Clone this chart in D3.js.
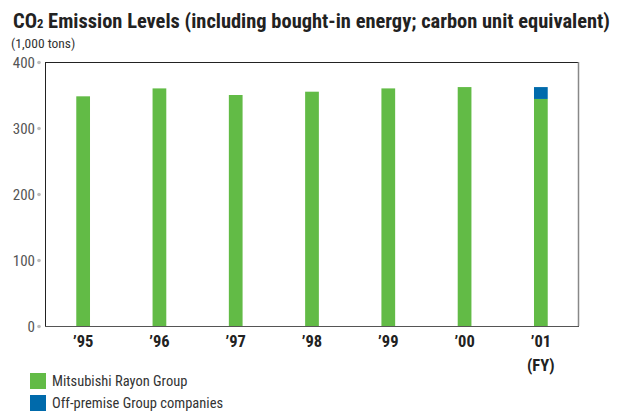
<!DOCTYPE html>
<html><head><meta charset="utf-8">
<script src="https://cdn.jsdelivr.net/npm/d3@7/dist/d3.min.js"></script>
<style>body{margin:0;background:#fff}svg{display:block}</style>
</head><body>
<svg id="c" width="624" height="412"></svg>
<script>
const years = ["’95","’96","’97","’98","’99","’00","’01"];
const rayonGroup = [348, 360, 350, 355, 360, 362, 344];
const offPremise = [0, 0, 0, 0, 0, 0, 18];
const yTicks = [0, 100, 200, 300, 400];
const seriesNames = ["Mitsubishi Rayon Group", "Off-premise Group companies"];
const colors = ["#62bb46", "#006aab"];

const svg = d3.select("#c");
const font = "'Liberation Sans Narrow','Roboto Condensed','Liberation Sans',Arial,sans-serif";
const L = 45, R = 579, T = 62, B = 326;

const x = d3.scaleBand().domain(years).range([L, R]).paddingInner(0.82).paddingOuter(0.41);
const y = d3.scaleLinear().domain([0, 400]).range([B, T]);

// title
const title = svg.append("text").attr("x", 13).attr("y", 28)
  .attr("font-family", font).attr("font-weight", "bold").attr("font-size", 21).attr("fill", "#222");
title.append("tspan").text("CO");
title.append("tspan").attr("font-size", 13).text("2");
title.append("tspan").text(" Emission Levels (including bought-in energy; carbon unit equivalent)");
title.attr("textLength", 597).attr("lengthAdjust", "spacingAndGlyphs");

svg.append("text").attr("x", 11).attr("y", 48).attr("font-family", font)
  .attr("font-size", 13.5).attr("fill", "#333").text("(1,000 tons)");

// bars
const stacked = years.map((yr, i) => ({yr, a: rayonGroup[i], b: offPremise[i]}));
svg.append("g").selectAll("rect").data(stacked).join("rect")
  .attr("x", d => x(d.yr)).attr("width", x.bandwidth())
  .attr("y", d => y(d.a)).attr("height", d => y(0) - y(d.a)).attr("fill", colors[0]);
svg.append("g").selectAll("rect").data(stacked.filter(d => d.b > 0)).join("rect")
  .attr("x", d => x(d.yr)).attr("width", x.bandwidth())
  .attr("y", d => y(d.a + d.b)).attr("height", d => y(d.a) - y(d.a + d.b)).attr("fill", colors[1]);

// frame
svg.append("line").attr("x1", L).attr("x2", R).attr("y1", T + 0.5).attr("y2", T + 0.5).attr("stroke", "#222");
svg.append("line").attr("x1", L + 0.5).attr("x2", L + 0.5).attr("y1", T).attr("y2", B).attr("stroke", "#222");
svg.append("line").attr("x1", R - 0.5).attr("x2", R - 0.5).attr("y1", T).attr("y2", B).attr("stroke", "#888").attr("stroke-width", 1.5);
svg.append("line").attr("x1", L).attr("x2", R).attr("y1", B + 0.5).attr("y2", B + 0.5).attr("stroke", "#555");

// y axis
const yAxis = d3.axisLeft(y).tickValues(yTicks).tickSize(0).tickPadding(0);
const ya = svg.append("g").attr("transform", `translate(${L - 10},0)`).call(yAxis);
ya.select(".domain").remove();
ya.selectAll("text").attr("font-family", font).attr("font-size", 15).attr("fill", "#555").attr("dy", "0.35em");
ya.selectAll(".tick").append("circle").attr("cx", 4).attr("cy", 0).attr("r", 1.8).attr("fill", "#bbb");

// x axis
const xAxis = d3.axisBottom(x).tickSize(0).tickPadding(0);
const xa = svg.append("g").attr("transform", `translate(0,${B + 21})`).call(xAxis);
xa.select(".domain").remove();
xa.selectAll("text").attr("font-family", font).attr("font-size", 16.5).attr("font-weight", "bold").attr("fill", "#222").attr("dy", 0).attr("y", 0);
svg.append("text").attr("x", x(years[6]) + x.bandwidth() / 2).attr("y", 371).attr("text-anchor", "middle")
  .attr("font-family", font).attr("font-size", 16.5).attr("font-weight", "bold").attr("fill", "#222").text("(FY)");

// legend
const lg = svg.append("g");
seriesNames.forEach((n, i) => {
  lg.append("rect").attr("x", 30).attr("y", 373 + i * 22).attr("width", 16).attr("height", 16).attr("fill", colors[i]);
  lg.append("text").attr("x", 52).attr("y", 386 + i * 22).attr("font-family", font).attr("font-size", 14.5).attr("fill", "#333").text(n);
});
</script>
</body></html>
